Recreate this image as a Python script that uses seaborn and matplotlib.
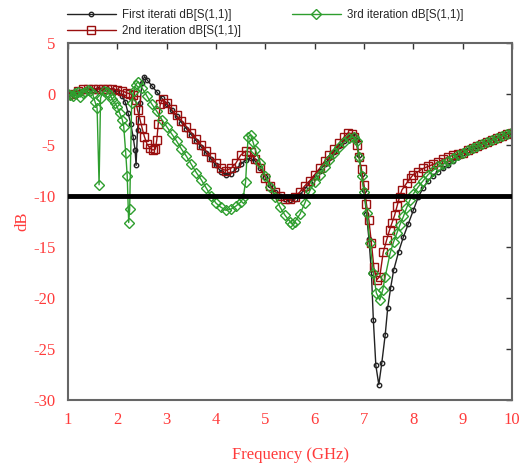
import matplotlib
matplotlib.use("Agg")
import matplotlib.pyplot as plt
import seaborn as sns
import pandas as pd

# First iteration dB[S(1,1)]
freq_1 = [1.0, 1.1, 1.2, 1.3, 1.4, 1.5, 1.6, 1.7, 1.8, 1.9, 2.0, 2.1, 2.16, 2.22, 2.27,
          2.32, 2.36, 2.38, 2.41, 2.46, 2.50, 2.55, 2.6, 2.7, 2.8, 2.9, 3.0, 3.1, 3.2,
          3.3, 3.4, 3.5, 3.6, 3.7, 3.8, 3.9, 4.0, 4.1, 4.2, 4.3, 4.4, 4.5, 4.6, 4.7,
          4.8, 4.9, 5.0, 5.1, 5.2, 5.3, 5.4, 5.5, 5.6, 5.7, 5.8, 5.9, 6.0, 6.1, 6.2,
          6.3, 6.4, 6.5, 6.6, 6.7, 6.75, 6.8, 6.85, 6.9, 6.95, 7.0, 7.05, 7.1, 7.15,
          7.19, 7.24, 7.30, 7.36, 7.43, 7.48, 7.54, 7.6, 7.7, 7.8, 7.9, 8.0, 8.1,
          8.2, 8.3, 8.4, 8.5, 8.6, 8.7, 8.8, 8.9, 9.0, 9.1, 9.2, 9.3, 9.4, 9.5,
          9.6, 9.7, 9.8, 9.9, 10.0]
s11_1 = [0.0, 0.1, 0.2, 0.3, 0.4, 0.4, 0.5, 0.5, 0.5, 0.4, 0.3, -0.2, -0.8, -1.9, -2.9,
         -4.2, -5.5, -7.0, -3.5, -0.9, 1.1, 1.7, 1.4, 0.8, 0.2, -0.4, -1.0, -1.6, -2.2,
         -2.8, -3.4, -4.0, -4.6, -5.2, -5.8, -6.4, -7.0, -7.6, -7.9, -7.8, -7.4, -6.9,
         -6.5, -6.3, -6.6, -7.3, -8.1, -8.9, -9.6, -10.0, -10.3, -10.4, -10.3, -9.9,
         -9.3, -8.7, -8.1, -7.5, -6.9, -6.3, -5.7, -5.1, -4.6, -4.2, -4.0, -4.1, -4.5,
         -6.0, -7.8, -9.4, -11.8, -14.2, -17.5, -22.2, -26.6, -28.5, -26.4, -23.6,
         -21.0, -19.0, -17.3, -15.5, -14.0, -12.7, -11.4, -10.1, -9.2, -8.5, -8.0,
         -7.6, -7.3, -7.0, -6.6, -6.2, -5.8, -5.5, -5.3, -5.1, -4.9, -4.7, -4.5,
         -4.3, -4.1, -3.95, -3.8]

# 2nd iteration dB[S(1,1)]
freq_2 = [1.0, 1.1, 1.2, 1.3, 1.4, 1.5, 1.6, 1.7, 1.8, 1.9, 2.0, 2.1, 2.2, 2.26, 2.32,
          2.37, 2.41, 2.46, 2.50, 2.55, 2.6, 2.66, 2.72, 2.77, 2.8, 2.83, 2.87, 2.92,
          3.0, 3.1, 3.2, 3.3, 3.4, 3.5, 3.6, 3.7, 3.8, 3.9, 4.0, 4.1, 4.2, 4.3, 4.4,
          4.5, 4.6, 4.7, 4.8, 4.9, 5.0, 5.1, 5.2, 5.3, 5.4, 5.5, 5.6, 5.7, 5.8, 5.9,
          6.0, 6.1, 6.2, 6.3, 6.4, 6.5, 6.6, 6.68, 6.75, 6.8, 6.85, 6.9, 6.95, 7.0,
          7.05, 7.1, 7.15, 7.2, 7.26, 7.32, 7.39, 7.46, 7.52, 7.57, 7.62, 7.67, 7.72,
          7.77, 7.87, 7.95, 8.0, 8.1, 8.2, 8.3, 8.4, 8.5, 8.6, 8.7, 8.8, 8.9, 9.0,
          9.1, 9.2, 9.3, 9.4, 9.5, 9.6, 9.7, 9.8, 9.9, 10.0]
s11_2 = [-0.1, 0.0, 0.3, 0.5, 0.5, 0.5, 0.5, 0.5, 0.5, 0.5, 0.4, 0.3, 0.1, 0.0, -0.1,
         -0.6, -1.6, -2.5, -3.3, -4.2, -4.9, -5.3, -5.5, -5.4, -4.5, -2.9, -1.0, -0.5,
         -0.9, -1.5, -2.1, -2.6, -3.2, -3.8, -4.4, -5.0, -5.6, -6.2, -6.8, -7.3, -7.5,
         -7.3, -6.8, -6.0, -5.6, -5.7, -6.4, -7.3, -8.2, -9.0, -9.6, -10.0, -10.3,
         -10.3, -10.1, -9.6, -9.0, -8.5, -7.9, -7.3, -6.6, -6.0, -5.4, -4.8, -4.2,
         -3.8, -3.9, -4.2, -5.0, -6.2, -7.4, -8.9, -10.8, -12.4, -14.6, -17.0, -18.2,
         -17.9, -15.5, -14.3, -13.3, -12.6, -11.9, -11.0, -10.1, -9.4, -8.7, -8.2,
         -7.9, -7.6, -7.3, -7.1, -6.9, -6.7, -6.4, -6.2, -6.0, -5.9, -5.8, -5.5,
         -5.3, -5.1, -4.9, -4.7, -4.5, -4.3, -4.1, -3.95, -3.8]

# 3rd iteration dB[S(1,1)]
freq_3 = [1.0, 1.05, 1.1, 1.15, 1.2, 1.25, 1.3, 1.35, 1.4, 1.45, 1.5, 1.55, 1.59,
          1.63, 1.66, 1.72, 1.8, 1.85, 1.9, 1.95, 2.0, 2.05, 2.1, 2.13, 2.17, 2.2,
          2.23, 2.25, 2.29, 2.33, 2.37, 2.42, 2.5, 2.6, 2.7, 2.8, 2.9, 3.0, 3.1, 3.2,
          3.3, 3.4, 3.5, 3.6, 3.7, 3.8, 3.9, 4.0, 4.1, 4.2, 4.3, 4.4, 4.5, 4.55, 4.6,
          4.65, 4.7, 4.75, 4.8, 4.9, 5.0, 5.1, 5.2, 5.3, 5.4, 5.5, 5.55, 5.6, 5.7,
          5.8, 5.9, 6.0, 6.1, 6.2, 6.3, 6.4, 6.5, 6.6, 6.7, 6.8, 6.85, 6.9, 6.95,
          7.0, 7.06, 7.12, 7.19, 7.25, 7.32, 7.38, 7.43, 7.53, 7.6, 7.67, 7.73, 7.8,
          7.86, 7.93, 8.0, 8.1, 8.2, 8.3, 8.4, 8.5, 8.6, 8.7, 8.8, 8.9, 9.0, 9.1,
          9.2, 9.3, 9.4, 9.5, 9.6, 9.7, 9.8, 9.9, 10.0]
s11_3 = [0.0, -0.1, -0.2, 0.1, 0.2, -0.3, 0.1, 0.2, 0.4, 0.3, 0.0, -0.8, -1.4,
         -8.9, -0.4, 0.3, 0.2, -0.1, -0.5, -0.9, -1.3, -1.9, -2.5, -3.2, -5.8, -8.0,
         -12.6, -11.3, -0.9, 0.3, 0.9, 1.2, 0.6, -0.2, -1.0, -1.7, -2.5, -3.2, -3.9,
         -4.6, -5.4, -6.1, -6.9, -7.7, -8.4, -9.2, -10.0, -10.7, -11.1, -11.4, -11.3,
         -11.0, -10.6, -10.2, -8.6, -4.2, -4.0, -4.7, -5.5, -6.8, -8.0, -9.1, -10.1,
         -11.1, -11.9, -12.5, -12.7, -12.5, -11.8, -10.7, -9.5, -8.6, -7.9, -7.2,
         -6.5, -5.8, -5.2, -4.7, -4.3, -4.2, -4.6, -6.2, -8.0, -9.6, -11.7, -14.6,
         -17.5, -19.5, -20.2, -19.2, -17.9, -15.6, -14.5, -13.6, -12.8, -12.0, -11.2,
         -10.4, -9.8, -9.1, -8.5, -7.9, -7.5, -7.1, -6.9, -6.6, -6.3, -6.0, -5.8,
         -5.5, -5.3, -5.1, -4.9, -4.7, -4.5, -4.3, -4.1, -3.9, -3.7]

x_ticks = [1, 2, 3, 4, 5, 6, 7, 8, 9, 10]
y_ticks = [5, 0, -5, -10, -15, -20, -25, -30]
threshold_db = -10

sns.set_theme(style="white")
plt.rcParams["font.family"] = ["Liberation Sans", "DejaVu Sans"]
plt.rcParams["axes.unicode_minus"] = False

fig = plt.figure(figsize=(5.2, 4.66), dpi=100)
ax = fig.add_axes([68 / 520, 1 - 400 / 466, 444 / 520, 357 / 466])

red = "#9a0f0f"
green = "#2e9e2e"
label_red = "#ff3b3b"

series = [
    ("First iterati dB[S(1,1)]", freq_1, s11_1, "#222222", "o", 3.2),
    ("2nd iteration dB[S(1,1)]", freq_2, s11_2, red, "s", 5.2),
    ("3rd iteration dB[S(1,1)]", freq_3, s11_3, green, "D", 5.2),
]
for name, f, v, c, m, ms in series:
    df = pd.DataFrame({"Frequency": f, "dB": v})
    sns.lineplot(data=df, x="Frequency", y="dB", ax=ax, color=c, lw=1.0,
                 marker=m, markersize=ms, markerfacecolor="none",
                 markeredgecolor=c, markeredgewidth=1.0, label=name,
                 legend=False)

ax.axhline(threshold_db, color="black", lw=3.5, zorder=5)

ax.set_xlim(1, 10)
ax.set_ylim(-30, 5)
ax.set_xticks(x_ticks)
ax.set_yticks(y_ticks)
ax.tick_params(direction="in", length=4, width=1, color="#333333",
               top=True, right=True, labelcolor=label_red, pad=9,
               labelsize=12)
for lab in ax.get_xticklabels() + ax.get_yticklabels():
    lab.set_family("Liberation Serif")
for sp in ax.spines.values():
    sp.set_color("#666666")
    sp.set_linewidth(1.5)

ax.set_xlabel("Frequency (GHz)", color=label_red, fontsize=12,
              family="Liberation Serif", labelpad=13)
ax.set_ylabel("dB", color=label_red, fontsize=12,
              family="Liberation Serif", labelpad=2)

handles, labels = ax.get_legend_handles_labels()
fig.legend(handles, labels, loc="upper left", ncol=2, frameon=False,
           bbox_to_anchor=(62 / 520, 1 - 4 / 466), fontsize=8.3,
           handlelength=4.3, columnspacing=4.4, labelspacing=0.35,
           handletextpad=0.5, borderaxespad=0)

fig.savefig("out.png", dpi=100)
